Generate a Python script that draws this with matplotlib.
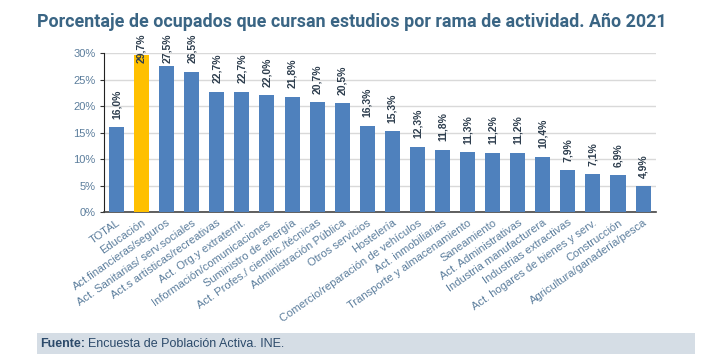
import matplotlib
matplotlib.use("Agg")
import matplotlib.pyplot as plt
from matplotlib.patches import Rectangle

categories = [
    "TOTAL", "Educación", "Act.financieras/seguros", "Act. Sanitarias/ serv.sociales",
    "Act.s artísticas/recreativas", "Act. Org.y extraterrit.", "Información/comunicaciones",
    "Suministro de energía", "Act. Profes./ cientific./técnicas", "Administración Pública",
    "Otros servicios", "Hostelería", "Comercio/reparación de vehículos", "Act. inmobiliarias",
    "Transporte y almacenamiento", "Saneamiento", "Act. Administrativas",
    "Industria manufacturera", "Industrias extractivas", "Act. hogares de bienes y serv.",
    "Construcción", "Agricultura/ganadería/pesca",
]
values = [16.0, 29.7, 27.5, 26.5, 22.7, 22.7, 22.0, 21.8, 20.7, 20.5, 16.3,
          15.3, 12.3, 11.8, 11.3, 11.2, 11.2, 10.4, 7.9, 7.1, 6.9, 4.9]
highlight = "Educación"

plt.rcParams["font.family"] = ["Liberation Sans", "DejaVu Sans"]

blue = "#4f81bd"
yellow = "#ffc000"
tick_col = "#5b7d9c"

fig = plt.figure(figsize=(7.23, 3.54), dpi=100)
ax = fig.add_axes([0.1438, 0.401, 0.763, 0.449])

x = range(len(categories))
colors = [yellow if c == highlight else blue for c in categories]
ax.bar(x, values, width=0.6, color=colors, zorder=3)

for i, v in enumerate(values):
    ax.text(i, min(v + 1.6, 28.2), f"{v:.1f}%".replace(".", ","), rotation=90,
            ha="center", va="bottom", fontsize=7.5, fontweight="bold",
            color="#2d3d4d", zorder=4)

ax.set_xlim(-0.5, len(categories) - 0.5)
ax.set_ylim(0, 30)
ax.set_yticks(range(0, 31, 5))
ax.set_yticklabels([f"{t}%" for t in range(0, 31, 5)], fontsize=8, color=tick_col)
ax.set_xticks(list(x))
ax.set_xticklabels(categories, rotation=35, ha="right", rotation_mode="anchor",
                   fontsize=8, color=tick_col)
ax.tick_params(axis="x", length=0, pad=4)
ax.tick_params(axis="y", length=3, width=0.8, color="#333333", pad=3)
ax.grid(axis="y", color="#d9d9d9", linewidth=1, zorder=0)
for s in ["top", "right"]:
    ax.spines[s].set_visible(False)
ax.spines["left"].set_color("#222222")
ax.spines["bottom"].set_color("#444444")
ax.spines["bottom"].set_linewidth(1.2)

# title: shrink to fit the width the condensed original uses
title = fig.text(0.051, 0.925,
                 "Porcentaje de ocupados que cursan estudios por rama de actividad. Año 2021",
                 fontsize=14, fontweight="bold", color="#3a6584", family=["Roboto", "DejaVu Sans"])
fig.canvas.draw()
w = title.get_window_extent().width
title.set_fontsize(14 * 630 / w)

fig.patches.append(Rectangle((0.051, 0.0), 0.91, 0.059, transform=fig.transFigure,
                             facecolor="#d5dde5", edgecolor="none"))
t1 = fig.text(0.056, 0.028, "Fuente:", fontsize=9, fontweight="bold",
              color="#2c4a6a", va="center")
fig.canvas.draw()
bb = t1.get_window_extent()
fig.text(bb.x1 / fig.bbox.width + 0.004, 0.028, "Encuesta de Población Activa. INE.",
         fontsize=9, color="#2c4a6a", va="center")

fig.savefig("out.png", dpi=100)
